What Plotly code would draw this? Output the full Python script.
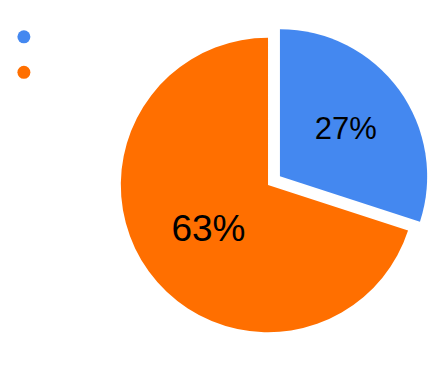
import plotly.graph_objects as go

labels = ["A", "B"]
values = [27, 63]
colors = ["#4488F0", "#FF6F00"]
text_labels = ["27%", "63%"]
text_sizes = [31, 37]
pulls = [0.1, 0]

fig = go.Figure()
fig.add_trace(go.Pie(
    labels=labels, values=values, text=text_labels,
    textinfo="text", textposition="inside",
    insidetextorientation="horizontal",
    textfont=dict(size=text_sizes, color="black", family="Liberation Sans, Arial, sans-serif"),
    marker=dict(colors=colors, line=dict(width=0)),
    pull=pulls, sort=False, direction="clockwise", rotation=0,
    domain=dict(x=[0.245, 0.993], y=[0.0647, 0.938]),
    showlegend=False, hoverinfo="none",
))
for lab, col in zip(labels, colors):
    fig.add_trace(go.Scatter(
        x=[None], y=[None], mode="markers", name=" ",
        marker=dict(color=col, size=13, symbol="circle"),
        showlegend=True,
    ))

fig.update_layout(
    width=433, height=371,
    margin=dict(l=0, r=0, t=0, b=0),
    paper_bgcolor="white", plot_bgcolor="white",
    xaxis=dict(visible=False), yaxis=dict(visible=False),
    legend=dict(x=0.009, y=0.962, xanchor="left", yanchor="top",
                font=dict(size=25), itemwidth=30, bgcolor="rgba(0,0,0,0)"),
)
fig.write_html("out.html")
